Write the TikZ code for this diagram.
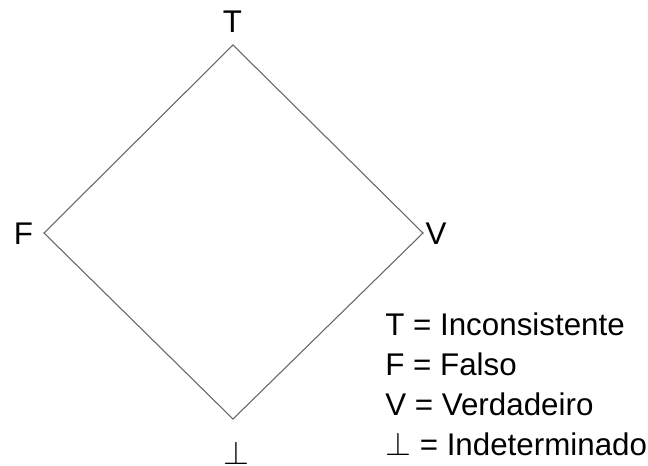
\documentclass[tikz,border=0pt]{standalone}
\usepackage{fontspec}
\setmainfont{Liberation Sans}
\begin{document}
\begin{tikzpicture}[x=0.75pt,y=-0.75pt,
  edge/.style={draw=black!60,line width=0.8pt},
  lbl/.style={font=\fontsize{23.5}{28}\selectfont,inner sep=0pt,anchor=base},
  leg/.style={font=\fontsize{23.5}{28}\selectfont,inner sep=0pt,anchor=base west}]
\useasboundingbox (0,0) rectangle (648,466);
\coordinate (top) at (233,45);
\coordinate (left) at (44,233);
\coordinate (right) at (423,233);
\coordinate (bottom) at (233,419);
\draw[edge] (top) -- (right) -- (bottom) -- (left) -- cycle;
\node[lbl] (lT) at (232.5,33) {T};
\node[lbl] (lF) at (23.5,244) {F};
\node[lbl] (lV) at (436,244) {V};
\node[lbl] (lB) at (236.5,464) {$\perp$};
\node[leg] (k1) at (385,335) {T = Inconsistente};
\node[leg] (k2) at (385,375) {F = Falso};
\node[leg] (k3) at (385,415) {V = Verdadeiro};
\node[leg] (k4) at (385,455) {$\perp$ = Indeterminado};
\end{tikzpicture}
\end{document}
